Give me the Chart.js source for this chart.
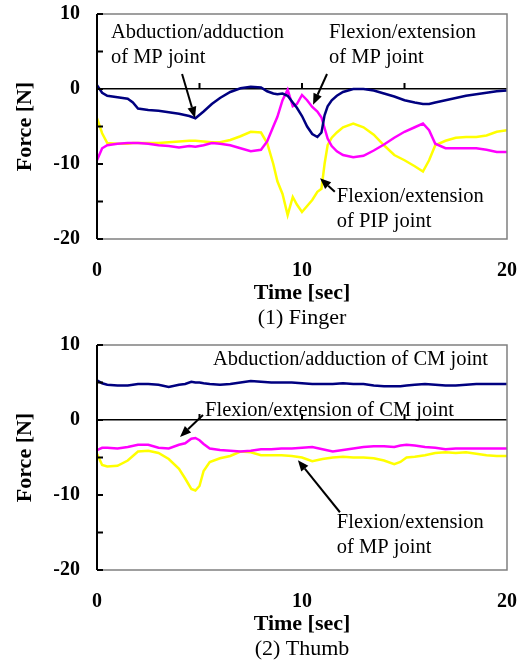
<!DOCTYPE html>
<html>
<head>
<meta charset="utf-8">
<title>Force - Finger and Thumb</title>
<script src="https://cdn.jsdelivr.net/npm/chart.js@4.4.1/dist/chart.umd.min.js"></script>
<style>
    body { margin: 0; background: #fff; }
    canvas { display: block; }
</style>
</head>
<body>
<canvas id="fingerChart" width="531" height="331"></canvas>
<canvas id="thumbChart" width="531" height="331"></canvas>
<script>
// Tick labels / axis ranges
const xTicks = [0, 10, 20];
const yTicks = [10, 0, -10, -20];

// (1) Finger - time [sec]
const fingerTime = [
    0, 0.25, 0.5, 1, 1.5, 1.75, 2, 2.5, 3, 3.5,
    4, 4.5, 4.8, 5.2, 5.6, 6, 6.5, 7, 7.5, 8,
    8.3, 8.6, 8.8, 9.05, 9.3, 9.55, 9.75, 10, 10.25, 10.5,
    10.75, 10.95, 11.1, 11.25, 11.45, 11.7, 12, 12.5, 13, 13.5,
    14, 14.5, 15, 15.5, 15.9, 16.2, 16.5, 17, 17.5, 18,
    18.5, 19, 19.5, 20
];
// Abduction/adduction of MP joint (navy)
const fingerAbdMP = [
    0.5, -0.5, -0.9, -1.1, -1.3, -1.8, -2.6, -2.8, -2.9, -3.1,
    -3.3, -3.6, -3.9, -3.0, -2.0, -1.2, -0.4, 0.1, 0.3, 0.2,
    -0.3, -0.6, -0.7, -0.6, -0.9, -1.8, -2.5, -3.6, -5.0, -6.0,
    -6.4, -5.8, -3.5, -2.3, -1.5, -0.9, -0.4, 0.0, 0.0, -0.2,
    -0.6, -1.0, -1.5, -1.8, -2.0, -2.0, -1.8, -1.5, -1.2, -0.9,
    -0.7, -0.5, -0.3, -0.2
];
// Flexion/extension of MP joint (magenta)
const fingerFlexMP = [
    -9.5, -7.9, -7.5, -7.3, -7.2, -7.2, -7.2, -7.3, -7.5, -7.6,
    -7.8, -7.6, -7.7, -7.5, -7.2, -7.3, -7.5, -7.9, -8.3, -8.1,
    -7.0, -5.0, -3.7, -1.5, -0.1, -2.3, -2.0, -0.8, -1.5, -2.4,
    -3.0, -3.8, -5.2, -6.6, -7.6, -8.3, -8.8, -9.1, -8.9, -8.2,
    -7.4, -6.5, -5.7, -5.1, -4.6, -5.5, -7.3, -7.9, -7.9, -7.9,
    -7.9, -8.1, -8.4, -8.4
];
// Flexion/extension of PIP joint (yellow)
const fingerFlexPIP = [
    -3.9, -5.9, -7.2, -7.3, -7.3, -7.2, -7.2, -7.2, -7.2, -7.1,
    -7.0, -6.9, -6.9, -7.0, -7.1, -7.1, -6.8, -6.3, -5.7, -5.8,
    -7.2, -10.0, -12.3, -14.0, -16.8, -14.4, -15.4, -16.4, -15.6, -14.8,
    -13.7, -13.3, -10.0, -7.5, -6.5, -5.8, -5.1, -4.6, -5.1, -6.1,
    -7.5, -8.8, -9.5, -10.3, -11.0, -9.5, -7.5, -6.9, -6.5, -6.4,
    -6.4, -6.2, -5.7, -5.5
];

// (2) Thumb - time [sec]
const thumbTime = [
    0, 0.25, 0.5, 1, 1.5, 2, 2.5, 3, 3.5, 4,
    4.3, 4.6, 4.8, 5, 5.2, 5.5, 6, 6.5, 7, 7.5,
    8, 8.5, 9, 9.5, 10, 10.5, 11, 11.5, 12, 12.5,
    13, 13.5, 14, 14.5, 14.8, 15.1, 15.5, 16, 16.5, 17,
    17.5, 18, 18.5, 19, 19.5, 20
];
// Abduction/adduction of CM joint (navy)
const thumbAbdCM = [
    5.3, 4.9, 4.7, 4.6, 4.6, 4.8, 4.8, 4.7, 4.4, 4.7,
    4.8, 5.1, 5.0, 5.0, 4.9, 4.8, 4.7, 4.8, 5.0, 5.2,
    5.1, 5.0, 5.0, 5.0, 4.9, 4.8, 4.8, 4.8, 4.9, 4.8,
    4.8, 4.6, 4.5, 4.5, 4.5, 4.6, 4.7, 4.8, 4.7, 4.6,
    4.6, 4.7, 4.8, 4.8, 4.8, 4.8
];
// Flexion/extension of CM joint (magenta)
const thumbFlexCM = [
    -4.0, -3.7, -3.7, -3.8, -3.6, -3.3, -3.3, -3.7, -3.8, -3.3,
    -3.1, -2.5, -2.4, -2.7, -3.2, -3.8, -4.0, -4.1, -4.2, -4.1,
    -3.9, -3.9, -3.8, -3.8, -3.7, -3.6, -3.9, -4.2, -4.0, -3.8,
    -3.6, -3.5, -3.5, -3.6, -3.4, -3.3, -3.4, -3.6, -3.7, -3.9,
    -3.8, -3.8, -3.8, -3.8, -3.8, -3.8
];
// Flexion/extension of MP joint (yellow)
const thumbFlexMP = [
    -4.5, -6.0, -6.2, -6.1, -5.4, -4.2, -4.1, -4.4, -5.2, -6.5,
    -7.8, -9.2, -9.4, -8.8, -6.8, -5.6, -5.1, -4.8, -4.2, -4.3,
    -4.7, -4.7, -4.7, -4.8, -5.0, -5.5, -5.2, -5.0, -4.9, -5.0,
    -5.0, -5.1, -5.4, -5.9, -5.6, -5.0, -4.9, -4.7, -4.4, -4.3,
    -4.4, -4.3, -4.5, -4.7, -4.8, -4.8
];

const SERIF = '"Liberation Serif", "Times New Roman", serif';
const NAVY = '#000080';
const MAGENTA = '#FF00FF';
const YELLOW = '#FFFF00';

// Build {x, y} points from a time array and a value array
function toPoints(times, values) {
    return times.map(function(t, i) { return { x: t, y: values[i] }; });
}

// Draw the plot frame, the black y axis and the small inward tick marks
const framePlugin = {
    id: 'frame',
    afterDatasetsDraw(chart) {
        const ctx = chart.ctx;
        const a = chart.chartArea;
        const x = chart.scales.x;
        const y = chart.scales.y;
        ctx.save();
        ctx.strokeStyle = '#808080';
        ctx.lineWidth = 1.5;
        ctx.beginPath();
        ctx.moveTo(a.left, a.top);
        ctx.lineTo(a.right, a.top);
        ctx.lineTo(a.right, a.bottom);
        ctx.lineTo(a.left, a.bottom);
        ctx.stroke();

        ctx.strokeStyle = '#000';
        ctx.lineWidth = 2;
        ctx.beginPath();
        ctx.moveTo(a.left, a.top);
        ctx.lineTo(a.left, a.bottom);
        y.ticks.forEach(function(t) {
            const py = y.getPixelForValue(t.value);
            ctx.moveTo(a.left, py);
            ctx.lineTo(a.left + 6, py);
        });
        const y0 = y.getPixelForValue(0);
        x.ticks.forEach(function(t) {
            if (t.value > x.min && t.value < x.max) {
                const px = x.getPixelForValue(t.value);
                ctx.moveTo(px, y0);
                ctx.lineTo(px, y0 - 6);
            }
        });
        ctx.stroke();
        ctx.restore();
    }
};

// Arrow with a filled head at (x2, y2)
function drawArrow(ctx, x1, y1, x2, y2) {
    const ang = Math.atan2(y2 - y1, x2 - x1);
    const len = 11, half = 4.5;
    const bx = x2 - len * Math.cos(ang);
    const by = y2 - len * Math.sin(ang);
    ctx.beginPath();
    ctx.moveTo(x1, y1);
    ctx.lineTo(bx, by);
    ctx.stroke();
    ctx.beginPath();
    ctx.moveTo(x2, y2);
    ctx.lineTo(bx + half * Math.sin(ang), by - half * Math.cos(ang));
    ctx.lineTo(bx - half * Math.sin(ang), by + half * Math.cos(ang));
    ctx.closePath();
    ctx.fill();
}

// Labels and arrows placed in data coordinates
function notesPlugin(notes, arrows) {
    return {
        id: 'notes',
        afterDatasetsDraw(chart) {
            const ctx = chart.ctx;
            const x = chart.scales.x;
            const y = chart.scales.y;
            ctx.save();
            ctx.fillStyle = '#000';
            ctx.strokeStyle = '#000';
            ctx.lineWidth = 2;
            ctx.font = '20.5px ' + SERIF;
            ctx.textAlign = 'left';
            ctx.textBaseline = 'middle';
            notes.forEach(function(n) {
                n.lines.forEach(function(s, i) {
                    ctx.fillText(s, x.getPixelForValue(n.t), y.getPixelForValue(n.v) + i * 25);
                });
            });
            arrows.forEach(function(r) {
                drawArrow(ctx,
                    x.getPixelForValue(r.from[0]), y.getPixelForValue(r.from[1]),
                    x.getPixelForValue(r.to[0]), y.getPixelForValue(r.to[1]));
            });
            ctx.restore();
        }
    };
}

function makeChart(canvasId, times, series, caption, notes, arrows) {
    const ctx = document.getElementById(canvasId).getContext('2d');
    const colors = [NAVY, MAGENTA, YELLOW];
    new Chart(ctx, {
        type: 'line',
        data: {
            datasets: series.map(function(values, i) {
                return {
                    data: toPoints(times, values),
                    borderColor: colors[i],
                    borderWidth: 2.5,
                    pointRadius: 0,
                    tension: 0,
                    fill: false
                };
            })
        },
        options: {
            responsive: false,
            animation: false,
            events: [],
            layout: { padding: { left: 0, right: 24, top: 14, bottom: 2 } },
            plugins: {
                legend: { display: false },
                tooltip: { enabled: false },
                title: {
                    display: true,
                    position: 'bottom',
                    fullSize: false,
                    text: caption,
                    color: '#000',
                    padding: 0,
                    font: { family: SERIF, size: 22, weight: 'normal', lineHeight: 1 }
                }
            },
            scales: {
                x: {
                    type: 'linear',
                    min: xTicks[0],
                    max: xTicks[xTicks.length - 1],
                    grid: { display: false, drawTicks: false },
                    border: { display: false },
                    ticks: {
                        stepSize: 5,
                        autoSkip: false,
                        maxRotation: 0,
                        padding: 20,
                        color: '#000',
                        font: { family: SERIF, size: 20, weight: 'bold', lineHeight: 1.2 },
                        callback: function(v) { return xTicks.indexOf(v) >= 0 ? v : ''; }
                    },
                    title: {
                        display: true,
                        text: 'Time [sec]',
                        color: '#000',
                        padding: { top: 0, bottom: 3 },
                        font: { family: SERIF, size: 22, weight: 'bold', lineHeight: 1 }
                    },
                    afterFit: function(scale) {
                        scale.height = 68;
                        scale.paddingLeft = 0;
                        scale.paddingRight = 0;
                    }
                },
                y: {
                    min: yTicks[yTicks.length - 1],
                    max: yTicks[0],
                    grid: {
                        drawTicks: false,
                        lineWidth: 1.5,
                        color: function(c) { return c.tick && c.tick.value === 0 ? '#000' : 'rgba(0,0,0,0)'; }
                    },
                    border: { display: false },
                    ticks: {
                        stepSize: 5,
                        autoSkip: false,
                        padding: 17,
                        color: '#000',
                        font: { family: SERIF, size: 20, weight: 'bold', lineHeight: 1.2 },
                        callback: function(v) { return yTicks.indexOf(v) >= 0 ? v : ''; }
                    },
                    title: {
                        display: true,
                        text: 'Force [N]',
                        color: '#000',
                        padding: { top: 14, bottom: 0 },
                        font: { family: SERIF, size: 22, weight: 'bold', lineHeight: 1 }
                    },
                    afterFit: function(scale) {
                        scale.width = 97;
                        scale.paddingTop = 0;
                        scale.paddingBottom = 0;
                    }
                }
            }
        },
        plugins: [framePlugin, notesPlugin(notes, arrows)]
    });
}

document.addEventListener('DOMContentLoaded', function() {
    makeChart('fingerChart', fingerTime,
        [fingerAbdMP, fingerFlexMP, fingerFlexPIP],
        '(1) Finger',
        [
            { t: 0.68, v: 7.5, lines: ['Abduction/adduction', 'of MP joint'] },
            { t: 11.32, v: 7.5, lines: ['Flexion/extension', 'of MP joint'] },
            { t: 11.7, v: -14.4, lines: ['Flexion/extension', 'of PIP joint'] }
        ],
        [
            { from: [4.15, 2.0], to: [4.78, -3.85] },
            { from: [11.22, 2.0], to: [10.54, -2.1] },
            { from: [11.6, -13.7], to: [10.88, -11.9] }
        ]);

    makeChart('thumbChart', thumbTime,
        [thumbAbdCM, thumbFlexCM, thumbFlexMP],
        '(2) Thumb',
        [
            { t: 5.66, v: 8.0, lines: ['Abduction/adduction of CM joint'] },
            { t: 5.27, v: 1.2, lines: ['Flexion/extension of CM joint'] },
            { t: 11.7, v: -13.7, lines: ['Flexion/extension', 'of MP joint'] }
        ],
        [
            { from: [5.17, 0.67], to: [4.05, -2.25] },
            { from: [11.85, -12.3], to: [9.8, -5.35] }
        ]);
});
</script>
</body>
</html>
